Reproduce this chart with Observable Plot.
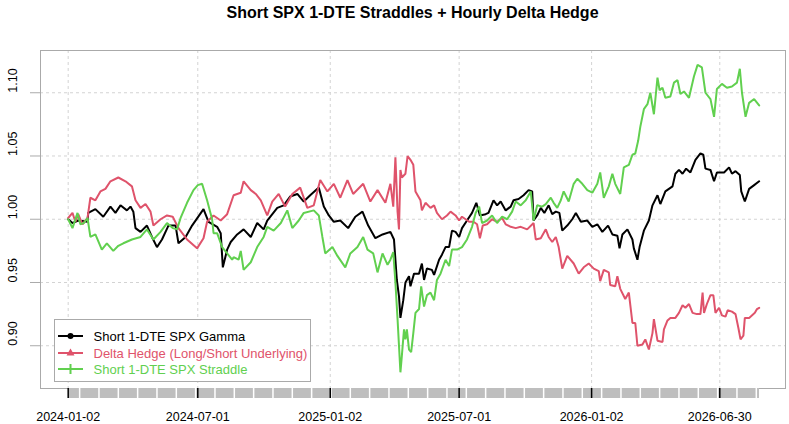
<!DOCTYPE html>
<html><head><meta charset="utf-8">
<script src="https://cdn.jsdelivr.net/npm/d3@7"></script>
<script src="https://cdn.jsdelivr.net/npm/@observablehq/plot@0.6"></script>
<style>
body{margin:0;background:#fff;font-family:"Liberation Sans",Arial,sans-serif;}
#wrap{position:relative;width:789px;height:424px;overflow:hidden;}
#title{position:absolute;left:40px;width:745px;top:5px;text-align:center;font-weight:bold;font-size:16px;line-height:16px;color:#000;}
#legend{position:absolute;left:54px;top:319px;width:255px;height:61px;border:1px solid #aaaaaa;background:#fff;}
</style></head><body>
<div id="wrap"><div id="chart"></div><div id="title"></div><div id="legend"></div></div>
<script>
const chartTitle = "Short SPX 1-DTE Straddles + Hourly Delta Hedge";
const startDate = "2024-01-02";
const seriesNames = ["Short 1-DTE SPX Gamma", "Delta Hedge (Long/Short Underlying)", "Short 1-DTE SPX Straddle"];
const seriesColors = ["#000000", "#DF536B", "#61D04F"];
const legendSymbols = ["circle", "triangle", "plus"];
const yTicks = [0.90, 0.95, 1.00, 1.05, 1.10];
const xTickLabels = ["2024-01-02", "2024-07-01", "2025-01-02", "2025-07-01", "2026-01-02", "2026-06-30"];

// days after startDate, values
const gammaDays = [0,6,14,27,28,38,49,59,66,73,82,87,91,94,101,110,117,124,131,140,150,154,164,173,189,196,208,213,216,222,227,236,245,255,264,273,278,292,301,310,320,329,338,350,357,364,371,380,391,401,411,419,429,439,450,455,459,462,464,468,471,476,478,483,490,494,497,501,508,511,518,522,527,532,536,541,546,550,557,564,570,575,583,587,594,599,604,611,618,622,629,636,643,648,650,655,660,665,671,676,681,686,690,697,704,709,716,725,732,739,746,754,760,767,770,774,781,788,790,795,798,804,811,816,823,827,834,844,848,853,858,863,869,876,883,887,890,897,902,906,916,923,927,932,938,940,945,951,958,965];
const gammaValues = [1.000,0.997,0.999,0.998,1.005,1.008,1.002,1.010,1.005,1.011,1.007,1.010,1.006,0.993,0.990,0.995,0.986,0.978,0.984,0.995,0.995,0.981,0.986,0.995,1.008,0.998,0.994,0.989,0.962,0.976,0.982,0.988,0.992,0.986,0.997,0.992,0.999,1.009,1.011,1.018,1.020,1.014,1.019,1.025,1.010,1.003,0.998,0.999,0.993,1.002,1.006,0.995,0.985,0.988,0.990,0.984,0.952,0.939,0.922,0.936,0.950,0.955,0.947,0.957,0.957,0.965,0.952,0.961,0.960,0.956,0.968,0.972,0.978,0.978,0.991,0.990,0.986,0.993,0.999,1.005,1.013,1.003,1.004,1.005,1.015,1.011,1.014,1.007,1.010,1.015,1.016,1.019,1.023,1.022,0.999,1.003,1.009,1.005,1.011,1.004,1.006,1.005,0.991,0.995,1.000,1.005,0.998,0.999,0.994,0.996,0.990,0.995,0.988,0.987,0.977,0.988,0.992,0.984,0.977,0.968,0.978,0.991,0.999,1.011,1.019,1.012,1.022,1.026,1.036,1.039,1.036,1.040,1.037,1.047,1.052,1.051,1.040,1.039,1.030,1.037,1.037,1.041,1.036,1.038,1.035,1.022,1.014,1.024,1.027,1.030];

const hedgeDays = [0,6,10,14,20,27,31,38,45,52,59,70,80,89,94,101,108,115,119,129,138,146,154,166,180,189,194,203,213,222,231,241,245,255,262,269,278,285,294,303,313,324,334,343,352,362,371,380,390,398,412,422,432,443,450,454,457,460,462,464,466,471,474,478,482,485,492,494,499,506,511,515,522,529,534,541,546,550,560,566,571,575,579,585,592,599,606,611,618,625,632,641,650,653,660,667,671,676,681,685,690,697,706,713,720,727,734,741,743,748,755,757,764,767,771,778,783,788,792,795,802,806,811,816,818,823,830,832,837,841,848,853,858,862,867,872,878,883,886,888,892,897,901,904,909,913,918,921,927,932,936,939,943,945,951,959,962,965];
const hedgeValues = [1.001,1.005,0.998,1.004,0.996,1.001,1.017,1.015,1.022,1.024,1.030,1.033,1.030,1.026,1.015,1.009,1.012,1.006,0.995,1.000,1.003,1.002,0.993,0.984,0.977,0.985,0.998,1.003,0.999,1.004,1.019,1.021,1.030,1.023,1.020,1.015,1.003,1.014,1.020,1.010,1.020,1.025,1.009,1.011,1.031,1.022,1.028,1.017,1.031,1.020,1.028,1.014,1.023,1.013,1.028,1.010,1.049,1.006,0.992,1.039,1.033,1.036,1.050,1.047,1.043,1.022,1.015,1.007,1.013,1.009,1.011,1.005,1.000,1.003,1.006,1.003,0.999,1.002,0.998,0.998,0.996,0.985,0.995,0.996,1.000,0.998,1.001,0.996,0.994,0.993,0.994,0.992,0.997,0.984,0.985,0.992,0.986,0.982,0.986,0.978,0.961,0.971,0.965,0.957,0.962,0.965,0.961,0.959,0.951,0.960,0.958,0.948,0.947,0.955,0.945,0.937,0.942,0.918,0.918,0.900,0.901,0.905,0.897,0.910,0.921,0.904,0.903,0.913,0.920,0.922,0.922,0.926,0.932,0.930,0.933,0.926,0.925,0.925,0.942,0.926,0.933,0.940,0.940,0.926,0.930,0.924,0.923,0.928,0.927,0.925,0.914,0.905,0.908,0.922,0.922,0.926,0.929,0.930];

const straddleDays = [0,6,13,17,22,27,31,38,47,54,63,70,77,89,101,110,119,129,138,146,152,157,166,175,181,187,194,201,203,208,215,222,229,231,238,241,245,255,264,273,278,287,297,306,313,322,329,343,350,355,359,369,376,387,394,404,412,418,426,432,439,446,450,454,457,460,462,464,466,469,471,473,476,479,482,485,490,493,497,501,506,511,515,520,527,532,536,543,550,557,564,569,574,578,585,592,599,606,613,620,625,632,639,646,650,655,662,667,674,678,683,688,692,699,706,711,718,725,732,739,743,748,755,760,764,771,776,783,788,792,796,799,804,809,813,818,823,826,830,834,841,846,851,855,860,867,874,879,885,890,897,902,906,913,920,927,934,938,941,946,951,958,965];
const straddleValues = [1.000,0.993,1.005,0.996,0.997,1.001,0.986,0.988,0.976,0.981,0.975,0.979,0.981,0.984,0.986,0.992,0.984,0.990,0.997,0.993,0.992,1.001,1.013,1.023,1.027,1.028,1.015,1.000,0.989,0.989,0.978,0.973,0.968,0.970,0.968,0.975,0.960,0.966,0.978,0.986,0.994,0.991,0.997,1.007,0.993,0.999,1.005,1.007,1.003,0.986,0.973,0.978,0.971,0.962,0.973,0.978,0.986,0.976,0.973,0.958,0.973,0.964,0.968,0.974,0.950,0.921,0.900,0.879,0.892,0.913,0.905,0.913,0.897,0.895,0.910,0.926,0.929,0.947,0.931,0.940,0.942,0.936,0.952,0.957,0.968,0.963,0.976,0.976,0.978,0.984,0.994,1.005,1.010,0.997,0.999,1.003,0.997,1.002,1.000,1.006,1.014,1.011,1.015,1.022,0.999,1.011,1.010,1.012,1.017,1.013,1.009,1.015,1.022,1.014,1.028,1.032,1.028,1.023,1.021,1.028,1.037,1.017,1.026,1.036,1.028,1.020,1.041,1.043,1.051,1.052,1.062,1.073,1.087,1.091,1.100,1.083,1.112,1.102,1.104,1.096,1.097,1.108,1.110,1.099,1.101,1.096,1.113,1.122,1.120,1.100,1.095,1.081,1.103,1.107,1.104,1.105,1.108,1.119,1.100,1.081,1.092,1.095,1.090];

const parse = d3.utcParse("%Y-%m-%d");
const t0 = parse(startDate);
const toDate = d => d3.utcDay.offset(t0, d);
const rows = [];
[[gammaDays, gammaValues], [hedgeDays, hedgeValues], [straddleDays, straddleValues]].forEach(([ds, vs], i) => {
  d3.zip(ds, vs).forEach(([d, v]) => rows.push({series: seriesNames[i], date: toDate(d), value: v}));
});
const majorDates = xTickLabels.map(parse);
const lastDay = d3.max(straddleDays);
const bandDates = d3.range(0, lastDay).map(toDate);
const gapDates = d3.range(16, lastDay, 27).map(toDate);

const chart = Plot.plot({
  width: 789, height: 424,
  marginLeft: 40, marginRight: 4, marginTop: 50, marginBottom: 36,
  style: {fontFamily: "'Liberation Sans', Arial, sans-serif", fontSize: "12.5px", background: "white", color: "black"},
  x: {type: "utc", domain: [new Date("2023-11-24T08:00Z"), new Date("2026-09-29T19:00Z")], label: null},
  y: {domain: [0.8662, 1.1334], label: null},
  color: {domain: seriesNames, range: seriesColors},
  marks: [
    Plot.ruleY(yTicks, {stroke: "#d3d3d3", strokeDasharray: "3,3"}),
    Plot.ruleX(majorDates, {stroke: "#d3d3d3", strokeDasharray: "3,3"}),
    Plot.line(rows, {x: "date", y: "value", z: "series", stroke: "series", strokeWidth: 2, strokeLinejoin: "miter"}),
    Plot.frame({stroke: "#aaaaaa"}),
    Plot.axisX({ticks: bandDates, tickSize: 10, stroke: "#bebebe", strokeWidth: 1, tickFormat: () => "", shapeRendering: "crispEdges", label: null}),
    Plot.axisX({ticks: gapDates, tickSize: 10, stroke: "white", strokeWidth: 1.5, tickFormat: () => "", label: null}),
    Plot.axisX({ticks: majorDates, tickSize: 10, stroke: "black", strokeWidth: 1.5, tickPadding: 14, fontSize: 12.5, fill: "black", tickFormat: d3.utcFormat("%Y-%m-%d"), label: null}),
    Plot.axisY({ticks: yTicks, tickSize: 10, stroke: "#aaaaaa", tickFormat: () => "", label: null}),
    Plot.text(yTicks, {y: d => d, text: d => d.toFixed(2), frameAnchor: "left", dx: -28, rotate: -90, fontSize: 12.5, fill: "black"})
  ]
});
document.getElementById("chart").appendChild(chart);
document.getElementById("title").textContent = chartTitle;

// legend
const lg = d3.select("#legend").append("svg").attr("width", 255).attr("height", 61);
const rowY = [16, 33, 49];
seriesNames.forEach((name, i) => {
  const g = lg.append("g").attr("transform", `translate(0,${rowY[i]})`);
  g.append("line").attr("x1", 3).attr("x2", 28).attr("y1", 0).attr("y2", 0).attr("stroke", seriesColors[i]).attr("stroke-width", 2);
  if (legendSymbols[i] === "circle") g.append("circle").attr("cx", 15.5).attr("cy", 0).attr("r", 3).attr("fill", seriesColors[i]);
  else if (legendSymbols[i] === "triangle") g.append("path").attr("d", "M15.5,-4.5L19.5,2.5L11.5,2.5Z").attr("fill", seriesColors[i]);
  else g.append("path").attr("d", "M15.5,-5V5M10.5,0H20.5").attr("stroke", seriesColors[i]).attr("stroke-width", 2);
  g.append("text").attr("x", 38.5).attr("y", 0).attr("dy", "0.35em").attr("font-size", 13).attr("fill", seriesColors[i]).attr("font-family", "'Liberation Sans', Arial, sans-serif").text(name);
});
</script>
</body></html>
